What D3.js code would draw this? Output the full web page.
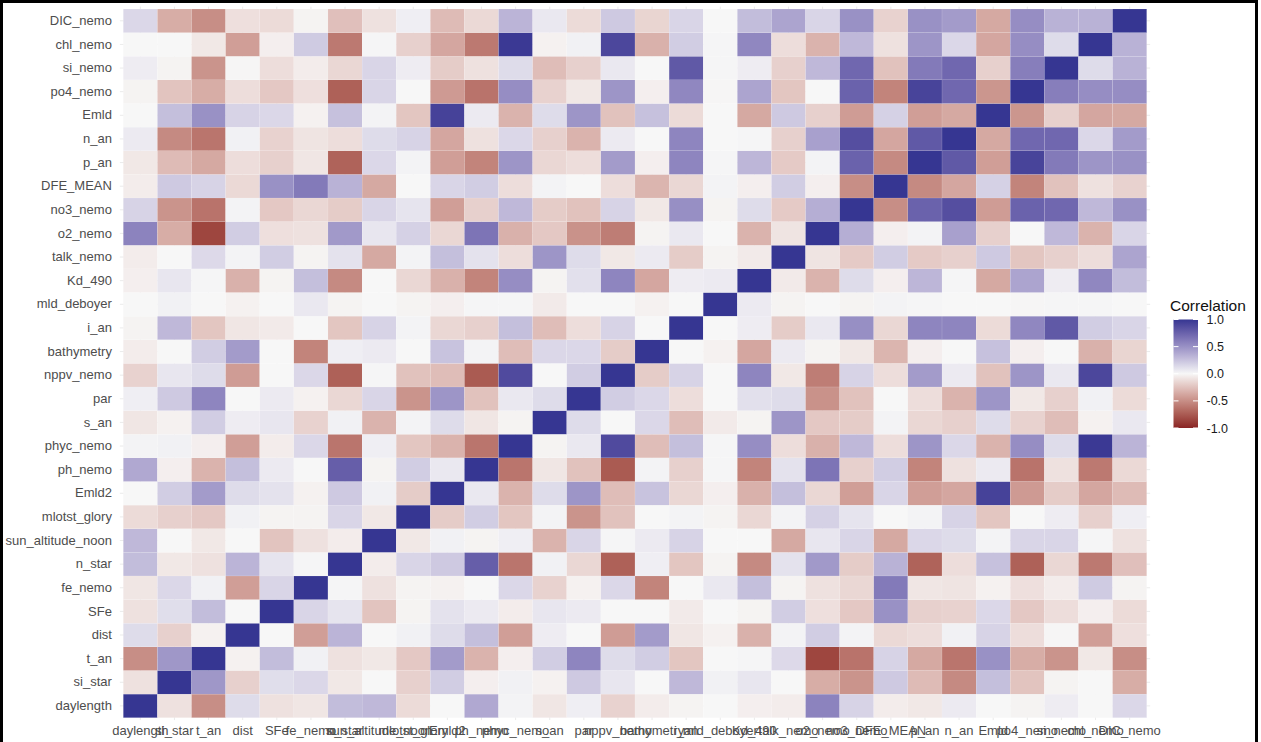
<!DOCTYPE html>
<html>
<head>
<meta charset="utf-8">
<script src="https://cdn.jsdelivr.net/npm/d3@7"></script>
<style>
  html, body { margin: 0; padding: 0; background: #ffffff; }
  svg { display: block; font-family: "Liberation Sans", Arial, Helvetica, sans-serif; }
</style>
</head>
<body>
<svg id="chart" width="1261" height="742"></svg>
<script>
// Variable order along the x axis (the y axis uses the reverse order)
const variables = ["daylength","si_star","t_an","dist","SFe","fe_nemo","n_star",
  "sun_altitude_noon","mlotst_glory","Emld2","ph_nemo","phyc_nemo","s_an","par",
  "nppv_nemo","bathymetry","i_an","mld_deboyer","Kd_490","talk_nemo","o2_nemo",
  "no3_nemo","DFE_MEAN","p_an","n_an","Emld","po4_nemo","si_nemo","chl_nemo","DIC_nemo"];

// Lower triangle of the correlation matrix: row i holds r(variables[i], variables[j]) for j < i
const corrLower = [
  [],
  [-0.10],
  [-0.50, 0.47],
  [0.13, -0.18, -0.03],
  [-0.10, 0.12, 0.28, 0.00],
  [-0.08, 0.15, 0.03, -0.42, 0.16],
  [0.28, -0.07, -0.10, 0.32, 0.09, 0.01],
  [0.30, 0.00, -0.07, 0.00, -0.24, -0.10, -0.05],
  [-0.13, -0.18, -0.22, 0.03, -0.02, -0.02, 0.16, -0.07],
  [0.00, 0.20, 0.45, 0.13, 0.10, -0.03, 0.22, 0.03, -0.20],
  [0.38, -0.04, -0.32, 0.27, 0.06, 0.00, 0.77, -0.02, 0.20, 0.07],
  [0.02, 0.03, -0.04, -0.42, -0.05, 0.15, -0.62, 0.04, -0.23, -0.32, -0.62],
  [-0.08, -0.03, 0.20, 0.05, 0.08, -0.17, 0.03, -0.32, 0.02, 0.13, -0.08, -0.02],
  [0.04, 0.22, 0.56, 0.00, 0.06, -0.03, -0.15, 0.16, -0.47, 0.48, -0.25, 0.07, 0.13],
  [-0.17, 0.08, 0.13, -0.43, 0.00, 0.15, -0.72, 0.01, -0.25, -0.27, -0.75, 0.88, 0.00, 0.20],
  [-0.05, 0.00, 0.20, 0.45, 0.00, -0.55, 0.04, 0.06, 0.00, 0.25, 0.02, -0.27, 0.15, 0.15, -0.20],
  [-0.02, 0.30, -0.23, -0.08, -0.06, 0.00, -0.23, 0.17, 0.02, -0.15, -0.18, 0.27, -0.27, -0.12, 0.17, 0.00],
  [0.00, 0.03, 0.00, -0.03, 0.00, 0.07, -0.02, 0.00, -0.02, -0.04, 0.01, 0.01, -0.06, 0.00, 0.00, -0.03, 0.00],
  [-0.04, 0.08, 0.01, -0.33, -0.02, 0.27, -0.52, 0.00, -0.15, -0.33, -0.55, 0.52, -0.02, 0.11, 0.56, -0.38, 0.05, 0.06],
  [-0.05, 0.00, 0.14, 0.02, 0.20, -0.02, 0.10, -0.37, 0.02, 0.27, 0.10, -0.12, 0.48, 0.13, -0.07, 0.06, -0.20, -0.02, -0.06],
  [0.57, -0.35, -0.85, 0.20, -0.11, -0.10, 0.46, 0.08, 0.18, -0.15, 0.65, -0.33, -0.22, -0.48, -0.58, -0.02, 0.07, 0.00, -0.32, -0.09],
  [0.17, -0.47, -0.63, 0.02, -0.22, -0.15, -0.20, 0.16, 0.09, -0.42, -0.18, 0.30, -0.20, -0.25, 0.17, -0.07, 0.51, -0.02, 0.13, -0.21, 0.35],
  [-0.05, 0.22, 0.17, -0.14, 0.50, 0.62, 0.33, -0.37, 0.00, 0.16, 0.20, -0.12, 0.02, 0.00, -0.12, -0.31, -0.15, 0.02, -0.04, 0.20, -0.04, -0.50],
  [-0.07, -0.28, -0.37, -0.12, -0.18, -0.08, -0.71, 0.15, 0.02, -0.42, -0.55, 0.48, -0.15, -0.12, 0.45, -0.04, 0.56, 0.01, 0.31, -0.21, 0.02, 0.75, -0.52],
  [0.06, -0.52, -0.62, 0.03, -0.17, -0.09, -0.12, 0.13, 0.17, -0.38, -0.10, 0.15, -0.18, -0.32, 0.06, 0.00, 0.56, 0.00, 0.01, -0.18, 0.42, 0.86, -0.38, 0.80],
  [0.00, 0.27, 0.50, 0.17, 0.15, -0.03, 0.26, 0.02, -0.23, 0.93, 0.06, -0.32, 0.13, 0.48, -0.25, 0.26, -0.13, 0.00, -0.37, 0.22, -0.18, -0.43, 0.18, -0.42, -0.37],
  [-0.02, -0.24, -0.35, -0.12, -0.22, -0.11, -0.72, 0.16, 0.00, -0.44, -0.63, 0.52, -0.17, -0.07, 0.48, -0.04, 0.55, -0.01, 0.40, -0.23, 0.00, 0.75, -0.55, 0.92, 0.72, -0.46],
  [0.05, -0.02, -0.47, -0.01, -0.12, -0.05, -0.15, 0.16, 0.05, -0.20, -0.10, 0.13, -0.27, -0.18, 0.07, 0.00, 0.80, 0.01, 0.05, -0.18, 0.30, 0.72, -0.25, 0.62, 0.72, -0.18, 0.60],
  [0.00, 0.00, -0.07, -0.42, -0.04, 0.21, -0.60, 0.01, -0.18, -0.38, -0.60, 0.98, -0.03, 0.03, 0.90, -0.33, 0.20, 0.01, 0.55, -0.12, -0.32, 0.30, -0.10, 0.48, 0.15, -0.38, 0.52, 0.13],
  [0.15, -0.35, -0.50, -0.11, -0.13, -0.02, -0.26, -0.10, 0.04, -0.28, -0.14, 0.32, 0.07, -0.13, 0.22, -0.16, 0.16, 0.00, 0.28, 0.40, 0.16, 0.50, -0.17, 0.50, 0.45, -0.37, 0.52, 0.33, 0.33]
];

const legendTicks = [-1.0, -0.5, 0.0, 0.5, 1.0];
const legendTitle = "Correlation";

// Full symmetric matrix as a list of cells
const cells = [];
variables.forEach((a, i) => {
  variables.forEach((b, j) => {
    const v = i === j ? 1 : (i > j ? corrLower[i][j] : corrLower[j][i]);
    cells.push({ x: b, y: a, value: v });
  });
});

const svg = d3.select("#chart");

// Panel geometry
const tileLeft = 123.3, tileRight = 1146.7, tileTop = 9, tileBottom = 717.7;
const padX = (tileRight - tileLeft) / variables.length * 0.1;
const padY = (tileBottom - tileTop) / variables.length * 0.1;

const x = d3.scaleBand().domain(variables).range([tileLeft, tileRight]).padding(0);
const y = d3.scaleBand().domain(variables.slice().reverse()).range([tileTop, tileBottom]).padding(0);

const color = d3.scaleLinear()
  .domain([-1, 0, 1])
  .range(["#8a2424", "#f7f7f7", "#363692"])
  .interpolate(d3.interpolateLab)
  .clamp(true);

// Major grid lines through the category centres
const grid = svg.append("g");
grid.selectAll("line.v").data(variables).join("line")
  .attr("x1", d => x(d) + x.bandwidth() / 2).attr("x2", d => x(d) + x.bandwidth() / 2)
  .attr("y1", tileTop - padY).attr("y2", tileBottom + padY)
  .attr("stroke", "#e6e6e6").attr("stroke-width", 0.8);
grid.selectAll("line.h").data(variables).join("line")
  .attr("y1", d => y(d) + y.bandwidth() / 2).attr("y2", d => y(d) + y.bandwidth() / 2)
  .attr("x1", tileLeft - padX).attr("x2", tileRight + padX)
  .attr("stroke", "#e6e6e6").attr("stroke-width", 0.8);

// Heatmap tiles
svg.append("g").selectAll("rect").data(cells).join("rect")
  .attr("x", d => x(d.x))
  .attr("y", d => y(d.y))
  .attr("width", x.bandwidth())
  .attr("height", y.bandwidth())
  .attr("fill", d => color(d.value))
  .attr("stroke", "#ffffff")
  .attr("stroke-opacity", 0.5)
  .attr("stroke-width", 0.2);

// Axes
const xAxis = svg.append("g")
  .attr("transform", `translate(0,${tileBottom + padY})`)
  .call(d3.axisBottom(x).tickSize(0).tickPadding(0));
xAxis.select(".domain").remove();
xAxis.selectAll("text")
  .attr("y", 14.5).attr("dy", 0)
  .attr("font-size", 13).attr("fill", "#4d4d4d")
  .attr("font-family", "Liberation Sans, Arial, sans-serif");

const yAxis = svg.append("g")
  .attr("transform", `translate(${tileLeft - padX},0)`)
  .call(d3.axisLeft(y).tickSize(0).tickPadding(8));
yAxis.select(".domain").remove();
yAxis.selectAll("text")
  .attr("font-size", 13).attr("fill", "#4d4d4d")
  .attr("font-family", "Liberation Sans, Arial, sans-serif");

// Colour bar legend
const barX = 1173.5, barW = 24.5, barTop = 319.5, barBottom = 428;
const legendScale = d3.scaleLinear().domain([-1, 1]).range([barBottom, barTop]);
const defs = svg.append("defs");
const grad = defs.append("linearGradient").attr("id", "corrGrad")
  .attr("x1", 0).attr("y1", 1).attr("x2", 0).attr("y2", 0);
d3.range(0, 21).forEach(k => {
  const v = -1 + k * 0.1;
  grad.append("stop").attr("offset", (k / 20)).attr("stop-color", color(v));
});
svg.append("rect")
  .attr("x", barX).attr("y", barTop)
  .attr("width", barW).attr("height", barBottom - barTop)
  .attr("fill", "url(#corrGrad)");

const lg = svg.append("g");
lg.selectAll("line.l").data(legendTicks).join("line")
  .attr("x1", barX).attr("x2", barX + 5)
  .attr("y1", d => legendScale(d)).attr("y2", d => legendScale(d))
  .attr("stroke", "#ffffff").attr("stroke-width", 1);
lg.selectAll("line.r").data(legendTicks).join("line")
  .attr("x1", barX + barW - 5).attr("x2", barX + barW)
  .attr("y1", d => legendScale(d)).attr("y2", d => legendScale(d))
  .attr("stroke", "#ffffff").attr("stroke-width", 1);
lg.selectAll("text").data(legendTicks).join("text")
  .attr("x", 1206.5)
  .attr("y", d => legendScale(d))
  .attr("dy", "0.36em")
  .attr("font-size", 12.5)
  .attr("fill", "#1a1a1a")
  .text(d => d3.format(".1f")(d).replace("−", "-"));

svg.append("text")
  .attr("x", 1170).attr("y", 310.5)
  .attr("font-size", 15.5).attr("fill", "#111111")
  .text(legendTitle);

// Outer frame
svg.append("rect")
  .attr("x", 1.5).attr("y", 1.5)
  .attr("width", 1255).attr("height", 770)
  .attr("fill", "none").attr("stroke", "#000000").attr("stroke-width", 3);
</script>
</body>
</html>
